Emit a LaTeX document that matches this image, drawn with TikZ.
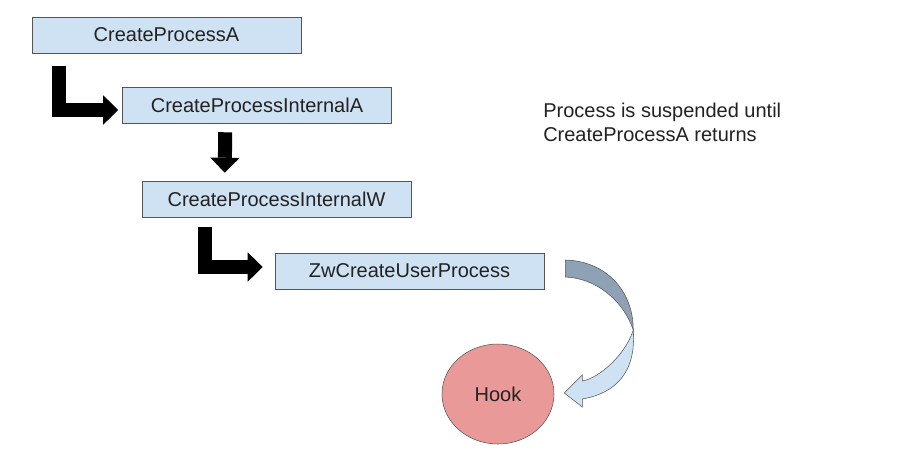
\documentclass[tikz,border=0pt]{standalone}
\usepackage{fontspec}
\setmainfont{Liberation Sans}
\usepackage{xcolor}
\usepackage{tikz}
\usetikzlibrary{positioning,%
  calc,%
  arrows.meta,%
  shapes.geometric
}
\definecolor{boxblue}{HTML}{CFE2F3}
\definecolor{backblue}{HTML}{8FA2B5}
\definecolor{hookred}{HTML}{EA9999}
\definecolor{edgegray}{HTML}{555555}
\definecolor{textgray}{HTML}{222222}
\tikzset{
  callbox/.style={draw=edgegray, fill=boxblue, thin, minimum width=201.75pt,
    minimum height=27pt, inner sep=0pt, text=textgray, font=\fontsize{15}{18}\selectfont},
  fatarrow/.style={line width=10.5pt, line join=miter,
    -{Triangle[length=11.25pt,width=22pt,line width=0pt]}},
}

\begin{document}
\begin{tikzpicture}[x=0.75pt,y=-0.75pt]
            \useasboundingbox (0,0) rectangle (911,451);
            \fill [white] (0,0) rectangle (911,451);

            \node [callbox] (cpa) at (166.5,35) {CreateProcessA};
            \node [callbox] (cpia) at (257,105) {CreateProcessInternalA};
            \node [callbox] (cpiw) at (276.5,199) {CreateProcessInternalW};
            \node [callbox] (zw) at (409.5,271) {ZwCreateUserProcess};
            \node [ellipse, draw=edgegray, fill=hookred, thin, minimum width=84pt,
              minimum height=75pt, text=textgray, font=\fontsize{15}{18}\selectfont] (hook) at (498,394) {Hook};
            \node [anchor=north west, inner sep=0pt, align=left, text=textgray,
              font=\fontsize{15}{18}\selectfont] (note) at (543,103)
              {Process is suspended until\\CreateProcessA returns};

            % black call arrows
            \draw [fatarrow] ($(cpa.south west)+(27,13)$) |- ($(cpia.west)+(-4,5)$);
            \draw [fatarrow] ($(cpia.south west)+(103,9)$) -- ($(cpiw.north west)+(83,-8)$);
            \draw [fatarrow] ($(cpiw.south west)+(63,10)$) |- ($(zw.west)+(-12,-4)$);

            % curved arrow to the hook
            \coordinate (cs) at ($(zw.east)+(21,-11)$);
            \coordinate (cx) at ($(cs)+(68,70)$);
            \coordinate (ct) at ($(hook.east)+(10,-1)$);
            \filldraw [fill=backblue, draw=edgegray, thin] (cs)
              .. controls ($(cs)+(40,1)$) and ($(cx)+(0,-40)$) .. (cx)
              .. controls ($(cx)+(-10,-30)$) and ($(cs)+(30,18)$) .. ($(cs)+(0,17)$) -- cycle;
            \filldraw [fill=boxblue, draw=edgegray, thin] (cx)
              .. controls ($(cx)+(-8,25)$) and ($(ct)+(35,-15)$) .. ($(ct)+(18,-12)$)
              -- ($(ct)+(18,-18)$) -- (ct) -- ($(ct)+(18,14)$) -- ($(ct)+(18,6)$)
              .. controls ($(ct)+(52,0)$) and ($(cx)+(3,42)$) .. (cx) -- cycle;
        \end{tikzpicture}
\end{document}
